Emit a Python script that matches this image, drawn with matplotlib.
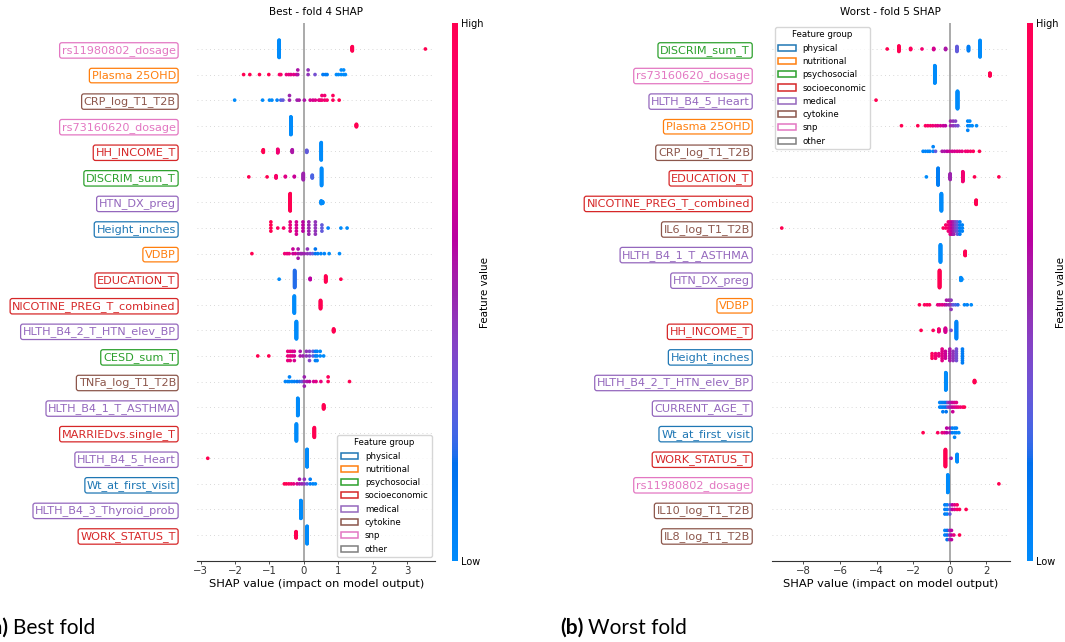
import numpy as np
import matplotlib
matplotlib.use("Agg")
import matplotlib.pyplot as plt
from matplotlib.colors import LinearSegmentedColormap, Normalize
from matplotlib.cm import ScalarMappable
from matplotlib.patches import Patch

# ---------------------------------------------------------------------------
# Feature groups and their colours
group_names = ["physical", "nutritional", "psychosocial", "socioeconomic",
               "medical", "cytokine", "snp", "other"]
group_colors = ["#1f77b4", "#ff7f0e", "#2ca02c", "#d62728",
                "#9467bd", "#8c564b", "#e377c2", "#7f7f7f"]

# ---------------------------------------------------------------------------
# Best fold (fold 4): features ordered by importance, top to bottom
best_features = ["rs11980802_dosage", "Plasma 25OHD", "CRP_log_T1_T2B",
                 "rs73160620_dosage", "HH_INCOME_T", "DISCRIM_sum_T",
                 "HTN_DX_preg", "Height_inches", "VDBP", "EDUCATION_T",
                 "NICOTINE_PREG_T_combined", "HLTH_B4_2_T_HTN_elev_BP",
                 "CESD_sum_T", "TNFa_log_T1_T2B", "HLTH_B4_1_T_ASTHMA",
                 "MARRIEDvs.single_T", "HLTH_B4_5_Heart", "Wt_at_first_visit",
                 "HLTH_B4_3_Thyroid_prob", "WORK_STATUS_T"]
best_groups = ["snp", "nutritional", "cytokine", "snp", "socioeconomic",
               "psychosocial", "medical", "physical", "nutritional",
               "socioeconomic", "socioeconomic", "medical", "psychosocial",
               "cytokine", "medical", "socioeconomic", "medical", "physical",
               "medical", "socioeconomic"]
# per feature: (SHAP value, normalised feature value, number of samples)
best_points = [
    [(-0.72, 0.0, 46), (1.40, 1.0, 12), (3.52, 1.0, 1)],
    [(-1.75, 1, 1), (-1.57, 1, 1), (-1.29, 1, 1), (-1.02, 1, 1), (-0.71, 0.9, 1),
     (-0.67, 0.9, 1), (-0.51, 0.8, 1), (-0.44, 0.8, 1), (-0.38, 0.75, 1),
     (-0.30, 0.75, 1), (-0.22, 0.7, 1), (-0.18, 0.55, 2), (0.12, 0.45, 2),
     (0.32, 0.35, 1), (0.55, 0.12, 1), (0.62, 0.1, 1), (0.67, 0.1, 1),
     (0.94, 0.0, 1), (1.00, 0.0, 1), (1.08, 0.0, 2), (1.15, 0.0, 2), (1.20, 0.0, 1)],
    [(-2.01, 0, 1), (-1.20, 0, 1), (-1.00, 0, 1), (-0.93, 0, 1), (-0.78, 0.05, 1),
     (-0.67, 0.25, 1), (-0.61, 0.3, 1), (-0.42, 0.5, 2), (-0.20, 0.5, 1),
     (-0.14, 0.55, 1), (0.01, 0.55, 1), (0.18, 0.7, 1), (0.26, 0.7, 1),
     (0.33, 0.75, 1), (0.43, 0.75, 1), (0.47, 0.8, 1), (0.52, 0.85, 2),
     (0.60, 0.85, 2), (0.67, 0.9, 1), (0.84, 0.95, 2), (1.02, 1.0, 1)],
    [(-0.38, 0.0, 51), (1.52, 1.0, 8)],
    [(-1.18, 1, 6), (-0.76, 0.85, 8), (-0.34, 0.55, 6), (0.08, 0.3, 5), (0.50, 0, 35)],
    [(-1.60, 1, 1), (-1.07, 1, 1), (-0.81, 0.9, 5), (-0.54, 0.75, 2),
     (-0.28, 0.65, 2), (-0.02, 0.5, 12), (0.24, 0.25, 6), (0.51, 0, 31)],
    [(-0.40, 1.0, 46), (0.50, 0.0, 8), (0.54, 0.0, 5)],
    [(-0.96, 1, 4), (-0.76, 0.95, 1), (-0.59, 0.9, 1), (-0.40, 0.8, 4),
     (-0.22, 0.7, 5), (-0.03, 0.6, 4), (0.14, 0.5, 5), (0.33, 0.45, 5),
     (0.52, 0.3, 3), (0.70, 0.05, 1), (1.07, 0, 1), (1.25, 0, 1)],
    [(-1.51, 1, 1), (-0.56, 0.85, 1), (-0.49, 0.8, 1), (-0.43, 0.8, 1),
     (-0.32, 0.65, 2), (-0.25, 0.7, 1), (-0.17, 0.55, 3), (-0.10, 0.5, 1),
     (-0.06, 0.5, 1), (0.01, 0.5, 1), (0.10, 0.45, 2), (0.18, 0.4, 1),
     (0.25, 0.3, 1), (0.33, 0.15, 2), (0.40, 0.1, 1), (0.49, 0.05, 1),
     (0.59, 0.05, 1), (0.73, 0.0, 1), (1.03, 0.0, 1)],
    [(-0.72, 0, 1), (-0.27, 0.2, 38), (0.18, 0.6, 4), (0.63, 1, 14), (1.07, 1, 1)],
    [(-0.28, 0, 40), (0.48, 1, 20)],
    [(-0.22, 0, 50), (0.86, 1, 9)],
    [(-1.34, 1, 1), (-1.02, 1, 1), (-0.47, 0.8, 3), (-0.40, 0.8, 3),
     (-0.34, 0.75, 2), (-0.28, 0.7, 3), (-0.11, 0.55, 2), (-0.03, 0.5, 1),
     (0.07, 0.45, 2), (0.16, 0.4, 3), (0.26, 0.3, 2), (0.33, 0.1, 3),
     (0.38, 0.05, 3), (0.47, 0, 2), (0.57, 0, 1)],
    [(-0.54, 0.05, 1), (-0.47, 0.05, 1), (-0.42, 0.05, 2), (-0.35, 0.05, 1),
     (-0.28, 0.1, 1), (-0.20, 0.15, 1), (-0.13, 0.2, 1), (-0.06, 0.3, 1),
     (0.01, 0.5, 3), (0.09, 0.55, 1), (0.16, 0.6, 1), (0.28, 0.7, 1),
     (0.35, 0.75, 1), (0.49, 0.8, 1), (0.70, 0.95, 2), (1.32, 1, 1)],
    [(-0.18, 0, 48), (0.57, 1, 12)],
    [(-0.22, 0, 38), (0.30, 1, 22)],
    [(-2.79, 1, 1), (0.09, 0, 58)],
    [(-0.57, 1, 1), (-0.51, 1, 1), (-0.44, 0.95, 1), (-0.37, 0.85, 1),
     (-0.30, 0.8, 1), (-0.20, 0.7, 1), (-0.13, 0.55, 2), (-0.06, 0.5, 1),
     (0.01, 0.45, 2), (0.09, 0.3, 1), (0.18, 0.1, 2), (0.26, 0.05, 1), (0.33, 0, 1)],
    [(-0.09, 0, 59)],
    [(-0.23, 1, 16), (0.09, 0, 43)],
]

# ---------------------------------------------------------------------------
# Worst fold (fold 5)
worst_features = ["DISCRIM_sum_T", "rs73160620_dosage", "HLTH_B4_5_Heart",
                  "Plasma 25OHD", "CRP_log_T1_T2B", "EDUCATION_T",
                  "NICOTINE_PREG_T_combined", "IL6_log_T1_T2B",
                  "HLTH_B4_1_T_ASTHMA", "HTN_DX_preg", "VDBP", "HH_INCOME_T",
                  "Height_inches", "HLTH_B4_2_T_HTN_elev_BP", "CURRENT_AGE_T",
                  "Wt_at_first_visit", "WORK_STATUS_T", "rs11980802_dosage",
                  "IL10_log_T1_T2B", "IL8_log_T1_T2B"]
worst_groups = ["psychosocial", "snp", "medical", "nutritional", "cytokine",
                "socioeconomic", "socioeconomic", "cytokine", "medical",
                "medical", "nutritional", "socioeconomic", "physical",
                "medical", "medical", "physical", "socioeconomic", "snp",
                "cytokine", "cytokine"]
worst_points = [
    [(-3.42, 1, 1), (-2.78, 1, 10), (-2.14, 0.95, 3), (-1.52, 0.85, 1),
     (-0.88, 0.7, 3), (-0.23, 0.55, 3), (0.39, 0.3, 9), (1.02, 0.1, 8), (1.65, 0, 28)],
    [(-0.82, 0, 50), (2.19, 1, 9)],
    [(-4.03, 1, 1), (0.42, 0, 58)],
    [(-2.64, 1, 1), (-1.75, 1, 1), (-1.33, 0.95, 1), (-1.20, 0.9, 1),
     (-1.06, 0.9, 1), (-0.93, 0.85, 1), (-0.78, 0.8, 1), (-0.66, 0.75, 1),
     (-0.51, 0.7, 1), (-0.36, 0.65, 1), (-0.24, 0.6, 1), (0.04, 0.5, 2),
     (0.18, 0.45, 2), (0.31, 0.4, 2), (0.44, 0.35, 1), (0.98, 0.05, 3),
     (1.09, 0.0, 2), (1.22, 0, 1), (1.46, 0, 1)],
    [(-1.46, 0.05, 1), (-1.33, 0.05, 1), (-1.20, 0.05, 1), (-1.09, 0.05, 1),
     (-0.91, 0.05, 2), (-0.78, 0.3, 1), (-0.42, 0.55, 1), (-0.29, 0.55, 1),
     (-0.15, 0.6, 1), (-0.02, 0.65, 1), (0.13, 0.7, 1), (0.26, 0.7, 1),
     (0.40, 0.75, 1), (0.53, 0.75, 1), (0.67, 0.8, 1), (0.86, 0.85, 1),
     (0.98, 0.85, 1), (1.13, 0.9, 1), (1.28, 0.95, 1), (1.62, 1, 1)],
    [(-1.28, 0, 1), (-0.64, 0.1, 34), (0.02, 0.5, 12), (0.71, 0.85, 20),
     (1.35, 1, 1), (2.68, 1, 1)],
    [(-0.46, 0, 46), (1.44, 1, 12)],
    [(-9.18, 1, 1), (-0.36, 0.95, 1), (-0.22, 0.9, 2), (-0.08, 0.85, 4),
     (0.02, 0.75, 5), (0.12, 0.6, 5), (0.22, 0.5, 5), (0.32, 0.4, 4),
     (0.42, 0.3, 5), (0.55, 0.1, 5), (0.68, 0.05, 3)],
    [(-0.51, 0, 46), (0.84, 1, 12)],
    [(-0.56, 1, 46), (0.60, 0, 8), (0.64, 0, 5)],
    [(-1.66, 1, 1), (-1.38, 0.95, 1), (-1.24, 0.95, 1), (-1.11, 0.95, 1),
     (-0.66, 0.8, 1), (-0.55, 0.75, 1), (-0.42, 0.75, 1), (-0.29, 0.7, 1),
     (-0.18, 0.55, 2), (-0.05, 0.5, 2), (0.07, 0.45, 3), (0.18, 0.3, 1),
     (0.31, 0.25, 1), (0.44, 0.2, 1), (0.80, 0.05, 1), (0.95, 0.05, 1), (1.17, 0, 1)],
    [(-1.57, 1, 1), (-0.91, 0.95, 1), (-0.60, 0.85, 7), (-0.24, 0.7, 10),
     (0.07, 0.35, 1), (0.36, 0.05, 40)],
    [(-0.97, 0.95, 3), (-0.78, 0.85, 3), (-0.60, 0.8, 2), (-0.42, 0.75, 6),
     (-0.24, 0.65, 4), (0.0, 0.55, 6), (0.18, 0.45, 5), (0.36, 0.35, 6), (0.69, 0.1, 7)],
    [(-0.22, 0, 50), (1.35, 1, 7)],
    [(-0.55, 0.05, 2), (-0.47, 0.05, 2), (-0.38, 0.1, 3), (-0.29, 0.1, 2),
     (-0.20, 0.15, 3), (-0.11, 0.4, 2), (-0.02, 0.5, 2), (0.07, 0.55, 2),
     (0.16, 0.65, 3), (0.26, 0.7, 2), (0.36, 0.75, 2), (0.46, 0.8, 1),
     (0.58, 0.85, 1), (0.71, 0.9, 1), (0.80, 1.0, 1)],
    [(-1.46, 1, 1), (-0.66, 0.95, 1), (-0.42, 0.8, 1), (-0.29, 0.75, 1),
     (-0.17, 0.6, 2), (0.0, 0.55, 2), (0.13, 0.1, 2), (0.26, 0.05, 3),
     (0.36, 0.05, 2), (0.49, 0, 1)],
    [(-0.24, 1, 40), (0.07, 0.5, 1), (0.40, 0, 18)],
    [(-0.11, 0, 58), (2.68, 1, 1)],
    [(-0.27, 0.1, 3), (-0.15, 0.05, 3), (0.0, 0.3, 3), (0.13, 0.6, 2),
     (0.26, 0.75, 2), (0.40, 0.9, 2), (0.53, 0.95, 1), (0.89, 1, 1)],
    [(-0.27, 0.05, 2), (-0.15, 0.15, 3), (-0.02, 0.45, 3), (0.09, 0.6, 3),
     (0.22, 0.8, 1), (0.53, 1, 1)],
]


# ---------------------------------------------------------------------------
def red_blue_cmap(nsteps=100):
    """Blue -> purple -> red scale interpolated in LCh space."""
    l_vals = np.r_[np.linspace(54.0, 40.0, nsteps // 2), np.linspace(40.0, 54.0, nsteps // 2)]
    c_vals = np.linspace(70.0, 90.0, nsteps)
    h_vals = np.linspace(4.6588, 0.35470565 + 2 * np.pi, nsteps)
    a = c_vals * np.cos(h_vals)
    b = c_vals * np.sin(h_vals)
    fy = (l_vals + 16.0) / 116.0
    fx = fy + a / 500.0
    fz = fy - b / 200.0

    def finv(t):
        return np.where(t > 6 / 29, t ** 3, 3 * (6 / 29) ** 2 * (t - 4 / 29))

    X = 0.95047 * finv(fx)
    Y = finv(fy)
    Z = 1.08883 * finv(fz)
    r = 3.2406 * X - 1.5372 * Y - 0.4986 * Z
    g = -0.9689 * X + 1.8758 * Y + 0.0415 * Z
    bl = 0.0557 * X - 0.2040 * Y + 1.0570 * Z
    rgb = np.stack([r, g, bl], axis=-1)
    rgb = np.where(rgb > 0.0031308, 1.055 * np.clip(rgb, 0, None) ** (1 / 2.4) - 0.055, 12.92 * rgb)
    rgb = np.clip(rgb, 0, 1)
    return LinearSegmentedColormap.from_list("red_blue", list(zip(np.linspace(0, 1, nsteps), rgb)))


cmap = red_blue_cmap()
group_color = dict(zip(group_names, group_colors))


def swarm_offsets(vals, row_height=0.4, nbins=100):
    """Stack samples that fall in the same bin, alternating up and down."""
    span = vals.max() - vals.min()
    quant = np.round(nbins * (vals - vals.min()) / (span + 1e-8))
    order = np.argsort(quant, kind="stable")
    ys = np.zeros(len(vals))
    layer, last_bin = 0, -1
    for idx in order:
        if quant[idx] != last_bin:
            layer = 0
        ys[idx] = np.ceil(layer / 2) * ((layer % 2) * 2 - 1)
        layer += 1
        last_bin = quant[idx]
    ys *= 0.9 * (row_height / np.max(ys + 1))
    return ys


def draw_panel(ax, cax, title, features, groups, points, xlim, xticks, legend_loc):
    n = len(features)
    for i, cluster in enumerate(points):
        pos = n - 1 - i
        ax.axhline(pos, color="#cccccc", lw=0.6, dashes=(1, 4), zorder=-1)
        vals = np.concatenate([np.full(k, v, dtype=float) for v, c, k in cluster])
        levels = np.concatenate([np.full(k, c, dtype=float) for v, c, k in cluster])
        ys = swarm_offsets(vals)
        ax.scatter(vals, pos + ys, c=levels, cmap=cmap, vmin=0, vmax=1, s=7,
                   linewidths=0, zorder=3)
    ax.axvline(0, color="#aaaaaa", lw=1.4, zorder=-1)

    ax.set_ylim(-1, n)
    ax.set_xlim(*xlim)
    ax.set_xticks(xticks)
    for side in ("top", "right", "left"):
        ax.spines[side].set_visible(False)
    ax.spines["bottom"].set_color("#333333")
    ax.tick_params(axis="x", labelsize=7.3, colors="#333333", length=2.5, width=0.6, pad=1.5)

    ax.set_yticks(range(n))
    ax.set_yticklabels(features[::-1], fontsize=8.1)
    ax.tick_params(axis="y", length=0, pad=15.5)
    for lab, grp in zip(ax.get_yticklabels(), groups[::-1]):
        col = group_color[grp]
        lab.set_color(col)
        lab.set_bbox(dict(boxstyle="round,pad=0.2", fc="white", ec=col, lw=0.9))

    ax.set_title(title, fontsize=7.5, pad=6)
    ax.set_xlabel("SHAP value (impact on model output)", fontsize=8.2, labelpad=2)

    handles = [Patch(facecolor="white", edgecolor=c, lw=1.1, label=g)
               for g, c in zip(group_names, group_colors)]
    ax.legend(handles=handles, title="Feature group", loc=legend_loc, fontsize=6.2,
              title_fontsize=6.2, borderaxespad=0.4, handlelength=2.0)

    cb = plt.colorbar(ScalarMappable(norm=Normalize(0, 1), cmap=cmap), cax=cax, ticks=[0, 1])
    cb.set_ticklabels(["Low", "High"])
    cb.ax.tick_params(labelsize=7, length=0, pad=2.5)
    cb.outline.set_visible(False)
    cb.set_label("Feature value", fontsize=7.5, labelpad=-2.5)


W, H = 1065, 642
fig = plt.figure(figsize=(W / 100, H / 100), dpi=100)
fig.patch.set_facecolor("white")

ax_bottom = 1 - 560.6 / H
ax_height = 537.2 / H
ax_best = fig.add_axes([197.4 / W, ax_bottom, 238 / W, ax_height])
cax_best = fig.add_axes([451.5 / W, ax_bottom, 6.5 / W, ax_height])
ax_worst = fig.add_axes([771.5 / W, ax_bottom, 238 / W, ax_height])
cax_worst = fig.add_axes([1026.5 / W, ax_bottom, 6.5 / W, ax_height])

draw_panel(ax_best, cax_best, "Best - fold 4 SHAP", best_features, best_groups,
           best_points, (-3.09, 3.81), [-3, -2, -1, 0, 1, 2, 3], "lower right")
draw_panel(ax_worst, cax_worst, "Worst - fold 5 SHAP", worst_features, worst_groups,
           worst_points, (-9.74, 3.26), [-8, -6, -4, -2, 0, 2], "upper left")

# Sub-figure captions
cap_y = 1 - 634 / H
fig.text(8 / W, cap_y, "(a)", fontsize=15, fontweight="bold", family="Lato",
         ha="right", va="baseline")
fig.text(13 / W, cap_y, "Best fold", fontsize=15, family="Lato", ha="left", va="baseline")
fig.text(583.5 / W, cap_y, "(b)", fontsize=15, fontweight="bold", family="Lato",
         ha="right", va="baseline")
fig.text(588 / W, cap_y, "Worst fold", fontsize=15, family="Lato", ha="left", va="baseline")

fig.savefig("out.png", dpi=100, facecolor="white")
